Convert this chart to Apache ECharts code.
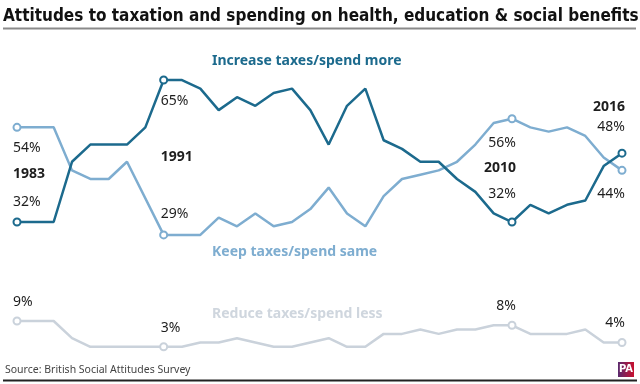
<!DOCTYPE html>
<html><head><meta charset="utf-8">
<script src="https://cdn.jsdelivr.net/npm/echarts@6/dist/echarts.min.js"></script>
<style>html,body{margin:0;padding:0;background:#fff}#c{width:640px;height:384px}</style>
</head><body><div id="c"></div>
<script>
const years = [1983,1984,1985,1986,1987,1988,1989,1990,1991,1992,1993,1994,1995,1996,1997,1998,1999,2000,2001,2002,2003,2004,2005,2006,2007,2008,2009,2010,2011,2012,2013,2014,2015,2016];
const increaseMore = [32,32,32,46,50,50,50,54,65,65,63,58,61,59,62,63,58,50,59,63,51,49,46,46,42,39,34,32,36,34,36,37,45,48];
const keepSame     = [54,54,54,44,42,42,46,null,29,29,29,33,31,34,31,32,35,40,34,31,38,42,43,44,46,50,55,56,54,53,54,52,47,44];
const reduceLess   = [9,9,9,5,3,3,3,3,3,3,4,4,5,4,3,3,4,5,3,3,6,6,7,6,7,7,8,8,6,6,6,7,4,4];
const markerYears = [1983,1991,2010,2016];
const seriesNames = ['Increase taxes/spend more','Keep taxes/spend same','Reduce taxes/spend less'];
const titleText = 'Attitudes to taxation and spending on health, education & social benefits';
const sourceText = 'Source: British Social Attitudes Survey';

const C_INC = '#1c6a8d', C_KEEP = '#7eadd0', C_RED = '#cad2db';

function build(vals){
  const out = [];
  years.forEach((y,i)=>{
    if (vals[i] === null) return;
    out.push({value:[y, vals[i]], symbol: markerYears.includes(y) ? 'emptyCircle' : 'none'});
  });
  return out;
}
function mk(name, vals, color, z){
  return {type:'line', name, data: build(vals), z, symbolSize:7,
    lineStyle:{color, width:2.5}, itemStyle:{color, borderWidth:2},
    emphasis:{disabled:true}, animation:false};
}
const chart = echarts.init(document.getElementById('c'), null, {renderer:'canvas'});
chart.setOption({
  animation:false,
  grid:{left:17, right:18, top:58.5, bottom:24.3},
  xAxis:{type:'value', min:1983, max:2016, show:false},
  yAxis:{type:'value', min:0, max:70, show:false},
  series:[mk(seriesNames[2], reduceLess, C_RED, 2), mk(seriesNames[1], keepSame, C_KEEP, 3), mk(seriesNames[0], increaseMore, C_INC, 4)]
});

function px(y, v){ return chart.convertToPixel({gridIndex:0}, [y, v]); }
function val(arr, y){ return arr[years.indexOf(y)]; }
const g = [];
const TXT = '#1e1e1e';
function t(x, y, text, opts){
  g.push({type:'text', x, y, silent:true, style:Object.assign({text, fill:TXT, font:'14px "Noto Sans"', textVerticalAlign:'middle', textAlign:'left'}, opts||{})});
}
// title & rules
t(3, 17, titleText, {font:'bold 17px "DejaVu Sans Condensed"', fill:'#111'});
g.push({type:'line', shape:{x1:3,y1:28.5,x2:636,y2:28.5}, style:{stroke:'#8a8a8a', lineWidth:2}});
g.push({type:'line', shape:{x1:3,y1:380.5,x2:637,y2:380.5}, style:{stroke:'#222', lineWidth:2}});
t(5, 370, sourceText, {font:'10.5px "Noto Sans"', fill:'#444'});
// series labels
t(212, 61, seriesNames[0], {font:'bold 14px "Noto Sans"', fill:C_INC});
t(212, 252, seriesNames[1], {font:'bold 14px "Noto Sans"', fill:C_KEEP});
t(212, 314, seriesNames[2], {font:'bold 14px "Noto Sans"', fill:'#cfd6de'});

// annotations
const BOLD = 'bold 14px "Noto Sans"';
function pts(year){
  return {
    pi: px(year, val(increaseMore, year)),
    pk: px(year, val(keepSame, year)),
    pr: px(year, val(reduceLess, year))
  };
}
function lab(year, x, yInc, yKeep, yYear, yRed, align){
  t(x, yInc, val(increaseMore, year)+'%', {textAlign:align});
  t(x, yKeep, val(keepSame, year)+'%', {textAlign:align});
  t(x, yYear, String(year), {textAlign:align, font:BOLD});
  t(x, yRed, val(reduceLess, year)+'%', {textAlign:align});
}
let p = pts(1983);
lab(1983, p.pi[0]-4, p.pi[1]-20, p.pk[1]+21, (p.pi[1]+p.pk[1])/2 - 1, p.pr[1]-19, 'left');
p = pts(1991);
lab(1991, p.pi[0]-3, p.pi[1]+21, p.pk[1]-21, (p.pi[1]+p.pk[1])/2, p.pr[1]-19, 'left');
p = pts(2010);
lab(2010, p.pi[0]+4, p.pi[1]-28, p.pk[1]+24, (p.pi[1]+p.pk[1])/2 - 2, p.pr[1]-19, 'right');
p = pts(2016);
lab(2016, p.pi[0]+3, p.pi[1]-26, p.pk[1]+24, p.pi[1]-46, p.pr[1]-19, 'right');

// PA logo
g.push({type:'rect', shape:{x:618,y:362,width:16,height:15}, style:{fill:new echarts.graphic.LinearGradient(0,0,1,0,[{offset:0,color:'#5a2a6e'},{offset:1,color:'#c8102e'}])}});
t(626, 369.5, 'PA', {textAlign:'center', font:'bold 11px "DejaVu Sans Condensed"', fill:'#fff'});

chart.setOption({graphic:{elements:g}});
</script></body></html>
